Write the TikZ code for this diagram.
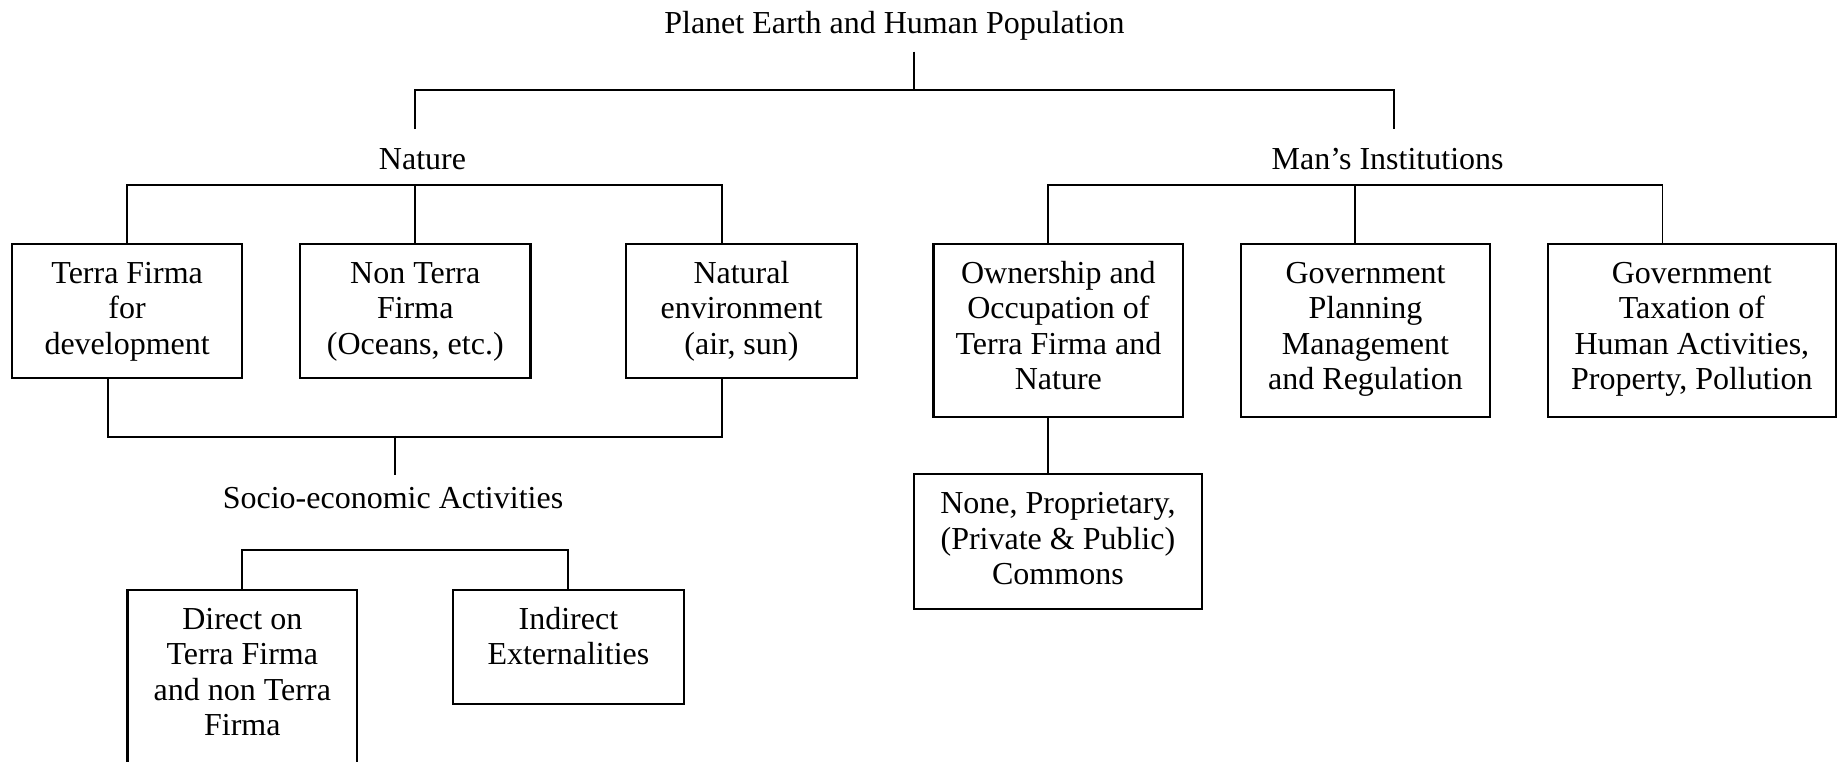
\documentclass[tikz,border=0pt]{standalone}
\usepackage{fontspec}
\setmainfont{Liberation Serif}
\begin{document}
\begin{tikzpicture}[x=0.5pt,y=-0.5pt,
  lbl/.style={font=\fontsize{16}{17.7}\selectfont, inner sep=0pt, anchor=base},
  boxtxt/.style={font=\fontsize{16}{17.7}\selectfont, inner sep=0pt, align=center, anchor=north},
  frame/.style={draw, line width=1.05pt, rectangle, inner sep=0pt},
  conn/.style={line width=0.95pt}]
\useasboundingbox (0,0) rectangle (1837,761);
\clip (0,0) rectangle (1837,761);

% titles
\node[lbl] (t0) at (894.5,33.3) {Planet Earth and Human Population};
\node[lbl] (nat) at (422.5,169) {Nature};
\node[lbl] (man) at (1387.6,169) {Man’s Institutions};
\node[lbl] (soc) at (393,508.5) {Socio-economic Activities};

% boxes
\node[frame, minimum width=115.2pt, minimum height=67.2pt] (b1) at (127.15,311.2) {};
\node[frame, minimum width=115.2pt, minimum height=67.2pt] (b2) at (415.25,311.2) {};
\node[frame, minimum width=115.2pt, minimum height=67.2pt] (b3) at (741.5,311.2) {};
\node[frame, minimum width=124.9pt, minimum height=86.35pt] (b4) at (1058.4,330.35) {};
\node[frame, minimum width=124.9pt, minimum height=86.35pt] (b5) at (1365.5,330.35) {};
\node[frame, minimum width=144.05pt, minimum height=86.35pt] (b6) at (1691.85,330.35) {};
\node[frame, minimum width=114.8pt, minimum height=100.15pt] (b7) at (242.3,689.85) {};
\node[frame, minimum width=115.6pt, minimum height=57.3pt] (b8) at (568.4,647) {};
\node[frame, minimum width=144.3pt, minimum height=67.35pt] (b9) at (1057.9,541.65) {};

% box texts
\node[boxtxt] (x1) at ([yshift=-7.7pt]b1.north) {\strut Terra Firma\\for\\development};
\node[boxtxt] (x2) at ([yshift=-7.7pt]b2.north) {\strut Non Terra\\Firma\\(Oceans, etc.)};
\node[boxtxt] (x3) at ([yshift=-7.7pt]b3.north) {\strut Natural\\environment\\(air, sun)};
\node[boxtxt] (x4) at ([yshift=-7.7pt]b4.north) {\strut Ownership and\\Occupation of\\Terra Firma and\\Nature};
\node[boxtxt] (x5) at ([yshift=-7.7pt]b5.north) {\strut Government\\Planning\\Management\\and Regulation};
\node[boxtxt] (x6) at ([yshift=-7.7pt]b6.north) {\strut Government\\Taxation of\\Human Activities,\\Property, Pollution};
\node[boxtxt] (x7) at ([yshift=-7.7pt]b7.north) {\strut Direct on\\Terra Firma\\and non Terra\\Firma};
\node[boxtxt] (x8) at ([yshift=-7.7pt]b8.north) {\strut Indirect\\Externalities};
\node[boxtxt] (x9) at ([yshift=-7.7pt]b9.north) {\strut None, Proprietary,\\(Private \& Public)\\Commons};

% connectors
\coordinate (cT) at (914,51.7);
\coordinate (cTbar) at (914,90);
\coordinate (cNat) at (415,129);
\coordinate (cMan) at (1393.6,129);
\draw[conn] (cT) -- (cTbar);
\draw[conn] (cNat) |- (cTbar) -| (cMan);

\draw[conn] (b1.north) -- ++(0,-58) -| ([xshift=-9.85pt]b3.north);
\draw[conn] (b2.north) -- ++(0,-58);

\draw[conn] ([xshift=-5.1pt]b4.north) -- ++(0,-58) -| ([xshift=-14.7pt]b6.north);
\draw[conn] ([xshift=-5.05pt]b5.north) -- ++(0,-58);

\draw[conn] ([xshift=-9.8pt]b1.south) -- ++(0,57.4) -| ([xshift=-9.75pt]b3.south);
\coordinate (sTop) at (395.4,435.7);
\coordinate (sEnd) at (395.4,475);
\draw[conn] (sTop) -- (sEnd);

\draw[conn] (b7.north) -- ++(0,-38.4) -| (b8.north);

\draw[conn] ([xshift=-5.05pt]b4.south) -- ([xshift=-5.05pt]b4.south |- b9.north);
\end{tikzpicture}
\end{document}
